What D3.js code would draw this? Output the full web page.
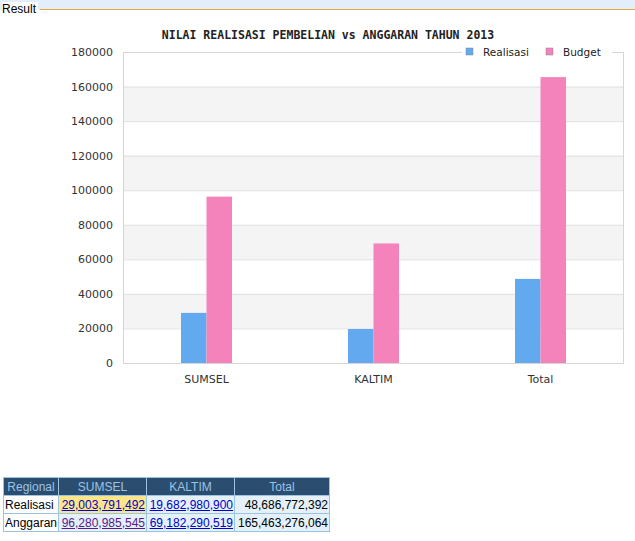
<!DOCTYPE html>
<html><head><meta charset="utf-8">
<script src="https://cdn.jsdelivr.net/npm/d3@7"></script>
<style>
body{margin:0;background:#fff;font-family:"DejaVu Sans",sans-serif;}
#hdr{position:absolute;left:0;top:0;width:635px;height:10px;background:#e3eefb;}
#hdr span{position:absolute;left:2px;top:2px;font-size:12px;background:#fff;padding-right:2px;font-family:"Liberation Sans",Arial;}
#hdr div{position:absolute;left:40px;right:0;top:9px;border-top:1px solid #e8a63a;}
table{position:absolute;left:3px;top:477px;border-collapse:collapse;font-family:"Liberation Sans",Arial;font-size:12px;}
td,th{border:1px solid #9cc3e0;padding:1px 1px;height:15px;}
th{background:#2b4d6f;color:#9cc3e6;font-weight:normal;}
td{background:#e4f1fb;text-align:right;}
td.l{text-align:left;background:#fff;}
a{color:#00c;}
</style></head><body>
<div id="hdr"><span>Result</span><div></div></div>
<svg id="c" width="635" height="470" style="position:absolute;left:0;top:0"></svg>
<table id="t"></table>
<script>
var regions = ["SUMSEL", "KALTIM", "Total"];
var series = ["Realisasi", "Budget"];
var colors = ["#62a9f0", "#f482bb"];
var realisasi = [29004, 19683, 48687];
var budget = [96281, 69182, 165463];
var yTicks = [0,20000,40000,60000,80000,100000,120000,140000,160000,180000];
var tblReal = ["29,003,791,492", "19,682,980,900", "48,686,772,392"];
var tblBudget = ["96,280,985,545", "69,182,290,519", "165,463,276,064"];

var svg = d3.select("#c");
var x = d3.scaleBand().domain(regions).range([123, 624]);
var y = d3.scaleLinear().domain([0, 180000]).range([363, 52]);

// alternating bands
for (var i = 2; i < yTicks.length; i += 2) {
    svg.append("rect").attr("x", 123).attr("width", 501)
        .attr("y", y(yTicks[i])).attr("height", y(yTicks[i-1]) - y(yTicks[i]))
        .attr("fill", "#f4f4f4");
}
svg.selectAll(".g").data(yTicks).enter().append("line")
    .attr("x1", 123).attr("x2", 624).attr("y1", d => y(d) + .5).attr("y2", d => y(d) + .5)
    .attr("stroke", "#e0e0e0");
svg.append("rect").attr("x", 123.5).attr("y", 52.5).attr("width", 500).attr("height", 311)
    .attr("fill", "none").attr("stroke", "#d6d6d6");

svg.selectAll(".yt").data(yTicks).enter().append("text")
    .attr("x", 113).attr("y", d => y(d) + 4).attr("text-anchor", "end")
    .attr("font-size", 11).attr("fill", "#333").text(d => d);
svg.selectAll(".xt").data(regions).enter().append("text")
    .attr("x", d => x(d) + x.bandwidth()/2).attr("y", 383).attr("text-anchor", "middle")
    .attr("font-size", 11).attr("fill", "#333").text(d => d);

var bw = 25.5;
[realisasi, budget].forEach(function(vals, s) {
    svg.selectAll(".b" + s).data(vals).enter().append("rect")
        .attr("x", (d, i) => x(regions[i]) + x.bandwidth()/2 - bw + s*bw)
        .attr("width", bw).attr("y", d => y(d)).attr("height", d => y(0) - y(d))
        .attr("fill", colors[s]);
});

svg.append("text").attr("x", 328).attr("y", 39).attr("text-anchor", "middle")
    .attr("font-family", "DejaVu Sans Mono").attr("font-weight", "bold").attr("font-size", 11.5)
    .attr("fill", "#222").text("NILAI REALISASI PEMBELIAN vs ANGGARAN TAHUN 2013");

var lg = svg.append("g");
lg.append("rect").attr("x", 462).attr("y", 45).attr("width", 150).attr("height", 14).attr("fill", "#fff");
series.forEach(function(s, i) {
    var lx = [466, 546][i];
    lg.append("rect").attr("x", lx).attr("y", 48).attr("width", 7).attr("height", 7)
        .attr("fill", colors[i]).attr("stroke", "#888").attr("stroke-width", .5);
    lg.append("text").attr("x", lx + 17).attr("y", 56).attr("font-size", 10.5).attr("fill", "#222").text(s);
});

// table
var t = d3.select("#t");
var hr = t.append("tr");
["Regional"].concat(regions).forEach(function(h, i) {
    hr.append("th").style("width", [52, 85, 85, 92][i] + "px").text(h);
});
[["Realisasi", tblReal], ["Anggaran", tblBudget]].forEach(function(r, ri) {
    var tr = t.append("tr");
    tr.append("td").attr("class", "l").text(r[0]);
    r[1].forEach(function(v, i) {
        var td = tr.append("td");
        if (ri == 0 && i == 0) td.style("background", "#fde68a");
        if (i < 2) td.append("a").attr("href", "#").style("color", ri == 1 && i == 0 ? "#551a8b" : "#00c").text(v);
        else td.text(v);
    });
});
</script>
</body></html>
